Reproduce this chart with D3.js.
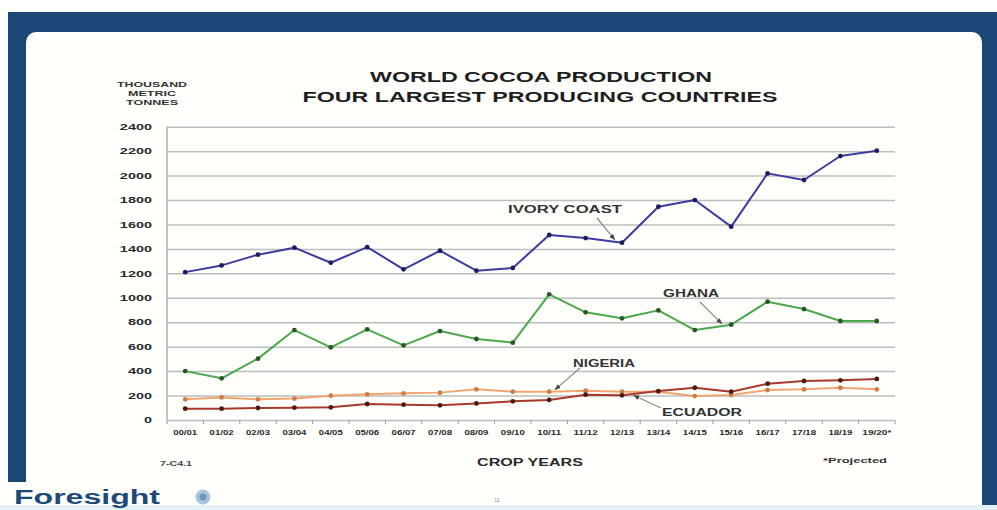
<!DOCTYPE html>
<html><head><meta charset="utf-8">
<script src="https://cdn.jsdelivr.net/npm/d3@7"></script>
<style>
html,body{margin:0;padding:0;background:#fff;}
svg{display:block;font-family:"Liberation Sans",Arial,Helvetica,sans-serif;}
</style>
</head><body>
<svg id="c" width="997" height="510"></svg>
<script>
// ---------- data ----------
const cropYears = ["00/01","01/02","02/03","03/04","04/05","05/06","06/07","07/08","08/09","09/10",
                   "10/11","11/12","12/13","13/14","14/15","15/16","16/17","17/18","18/19","19/20*"];
const yTicks = [0,200,400,600,800,1000,1200,1400,1600,1800,2000,2200,2400];
const ivoryCoast = [1210,1265,1353,1410,1287,1415,1233,1385,1222,1244,1514,1489,1451,1745,1800,1582,2018,1964,2160,2204];
const ghana      = [400,341,502,736,595,742,611,728,663,633,1028,881,832,897,736,780,968,908,810,810];
const nigeria    = [169,185,169,175,199,210,218,224,251,232,232,240,232,232,196,205,245,251,264,251];
const ecuador    = [93,93,98,101,104,131,125,120,136,153,164,207,202,237,264,232,297,319,325,336];
const seriesNames = ["IVORY COAST","GHANA","NIGERIA","ECUADOR"];

// ---------- setup ----------
const svg = d3.select("#c");
const X0 = 167, X1 = 895, Y0 = 420, Y1 = 126.7;
const x = d3.scaleBand().domain(cropYears).range([X0, X1]).padding(0);
const y = d3.scaleLinear().domain([0, 2400]).range([Y0, Y1]);
const cx = d => x(d) + x.bandwidth() / 2;

function stretch(sel, factor) {
  sel.each(function() {
    const L = this.getComputedTextLength();
    d3.select(this).attr("textLength", L * factor).attr("lengthAdjust", "spacingAndGlyphs");
  });
  return sel;
}
function fitTo(sel, w) {
  sel.attr("textLength", w).attr("lengthAdjust", "spacingAndGlyphs");
  return sel;
}

// ---------- slide frame ----------
svg.append("rect").attr("x", 0).attr("y", 0).attr("width", 997).attr("height", 510).attr("fill", "#ffffff");
svg.append("rect").attr("x", 8).attr("y", 12).attr("width", 989).attr("height", 498).attr("fill", "#1b4777");
svg.append("rect").attr("x", 26).attr("y", 32).attr("width", 956).attr("height", 520).attr("rx", 10)
   .attr("fill", "#fffffc");
// white strip behind the logo at bottom-left
svg.append("rect").attr("x", 0).attr("y", 482).attr("width", 60).attr("height", 28).attr("fill", "#fffffc");
svg.append("rect").attr("x", 0).attr("y", 505).attr("width", 997).attr("height", 5).attr("fill", "#e3f0f8");

// ---------- grid + y axis ----------
const gy = svg.append("g").attr("transform", `translate(${X0},0)`)
  .call(d3.axisLeft(y).tickValues(yTicks).tickSize(-(X1 - X0)).tickPadding(15).tickFormat(d3.format("d")));
gy.select(".domain").remove();
gy.selectAll(".tick line").attr("stroke", "#bdbdbd").attr("stroke-width", 1.5);
gy.selectAll(".tick text").attr("fill", "#2a2a2a").attr("font-size", 8.5).attr("font-weight", "bold");
stretch(gy.selectAll(".tick text"), 1.7);

svg.append("line").attr("x1", X0).attr("x2", X0).attr("y1", y(2400)).attr("y2", y(0))
   .attr("stroke", "#b0b0b0").attr("stroke-width", 1.5);

// x axis ticks at category boundaries
const bounds = cropYears.map(d => x(d)).concat([X1]);
svg.append("g").selectAll("line").data(bounds).join("line")
   .attr("x1", d => d).attr("x2", d => d).attr("y1", Y0).attr("y2", Y0 + 4)
   .attr("stroke", "#9a9a9a").attr("stroke-width", 1);

const gx = svg.append("g").attr("transform", `translate(0,${Y0})`)
  .call(d3.axisBottom(x).tickSize(0).tickPadding(10));
gx.select(".domain").remove();
gx.selectAll(".tick text").attr("fill", "#2a2a2a").attr("font-size", 7.5).attr("font-weight", "bold")
  .attr("textLength", d => d.length > 5 ? 29 : 24).attr("lengthAdjust", "spacingAndGlyphs");

// ---------- lines ----------
const series = [
  {name: seriesNames[0], values: ivoryCoast, line: "#3c3c9e", dot: "#1e1e5c"},
  {name: seriesNames[1], values: ghana,      line: "#4ba84b", dot: "#2b542b"},
  {name: seriesNames[2], values: nigeria,    line: "#f2a56e", dot: "#cf7c45"},
  {name: seriesNames[3], values: ecuador,    line: "#a8392b", dot: "#4a1a14"}
];
const lineGen = d3.line().x((v, i) => cx(cropYears[i])).y(v => y(v));
const order = [2, 3, 1, 0];
order.forEach(k => {
  const s = series[k];
  svg.append("path").datum(s.values).attr("d", lineGen)
     .attr("fill", "none").attr("stroke", s.line).attr("stroke-width", 2).attr("stroke-linejoin", "round");
  svg.append("g").selectAll("circle").data(s.values).join("circle")
     .attr("cx", (v, i) => cx(cropYears[i])).attr("cy", v => y(v)).attr("r", 2.4)
     .attr("fill", s.dot);
});

// ---------- annotations ----------
const defs = svg.append("defs");
defs.append("marker").attr("id", "ah").attr("viewBox", "0 0 10 10").attr("refX", 9).attr("refY", 5)
  .attr("markerWidth", 5).attr("markerHeight", 5).attr("orient", "auto")
  .append("path").attr("d", "M0,1 L10,5 L0,9 z").attr("fill", "#444");

const notes = [
  {text: seriesNames[0], tx: 565, ty: 213, w: 114, from: [597, 218], idx: 11, t: 0.85, s: 0},
  {text: seriesNames[1], tx: 691, ty: 297, w: 56,  from: [700, 302], idx: 14, t: 0.8, s: 1},
  {text: seriesNames[2], tx: 604, ty: 367, w: 62,  from: [580, 368], idx: 10, t: 0.1, s: 2},
  {text: seriesNames[3], tx: 702, ty: 416, w: 80,  from: [661, 408], idx: 12, t: 0.25, s: 3}
];
notes.forEach(n => {
  const vals = series[n.s].values;
  const xa = cx(cropYears[n.idx]), xb = cx(cropYears[n.idx + 1]);
  const tx = xa + (xb - xa) * n.t;
  const ty = y(vals[n.idx] + (vals[n.idx + 1] - vals[n.idx]) * n.t);
  const dx = tx - n.from[0], dy = ty - n.from[1], L = Math.hypot(dx, dy);
  const ex = n.from[0] + dx * (L - 3) / L, ey = n.from[1] + dy * (L - 3) / L;
  svg.append("line").attr("x1", n.from[0]).attr("y1", n.from[1]).attr("x2", ex).attr("y2", ey)
     .attr("stroke", "#8a8a8a").attr("stroke-width", 1.2).attr("marker-end", "url(#ah)");
  fitTo(svg.append("text").attr("x", n.tx).attr("y", n.ty).attr("text-anchor", "middle")
     .attr("font-size", 10).attr("font-weight", "bold").attr("fill", "#333").text(n.text), n.w);
});

// ---------- titles & labels ----------
fitTo(svg.append("text").attr("x", 541).attr("y", 82).attr("text-anchor", "middle")
  .attr("font-size", 14).attr("font-weight", "bold").attr("fill", "#1e1e1e")
  .text("WORLD  COCOA  PRODUCTION"), 342);
fitTo(svg.append("text").attr("x", 540).attr("y", 102).attr("text-anchor", "middle")
  .attr("font-size", 14).attr("font-weight", "bold").attr("fill", "#1e1e1e")
  .text("FOUR  LARGEST  PRODUCING  COUNTRIES"), 475);

[["THOUSAND", 87, 70], ["METRIC", 96, 48], ["TONNES", 105, 52]].forEach(([t, yy, w]) => {
  fitTo(svg.append("text").attr("x", 152).attr("y", yy).attr("text-anchor", "middle")
    .attr("font-size", 6.5).attr("font-weight", "bold").attr("fill", "#333").text(t), w);
});

fitTo(svg.append("text").attr("x", 530).attr("y", 466).attr("text-anchor", "middle")
  .attr("font-size", 10.5).attr("font-weight", "bold").attr("fill", "#2a2a2a").text("CROP  YEARS"), 106);
fitTo(svg.append("text").attr("x", 855).attr("y", 463).attr("text-anchor", "middle")
  .attr("font-size", 7.5).attr("font-weight", "bold").attr("fill", "#333").text("*Projected"), 64);
fitTo(svg.append("text").attr("x", 176).attr("y", 466).attr("text-anchor", "middle")
  .attr("font-size", 6.5).attr("font-weight", "bold").attr("fill", "#444").text("7-C4.1"), 32);
svg.append("text").attr("x", 497).attr("y", 502).attr("text-anchor", "middle")
  .attr("font-size", 6).attr("fill", "#999").text("11");

// Foresight logo
fitTo(svg.append("text").attr("x", 14).attr("y", 504)
  .attr("font-size", 20).attr("font-weight", "bold").attr("fill", "#1d4a78").text("Foresight"), 146);
svg.append("circle").attr("cx", 203).attr("cy", 497).attr("r", 7.5).attr("fill", "#a9c4dc");
svg.append("circle").attr("cx", 203).attr("cy", 497).attr("r", 3.5).attr("fill", "#6f95b8");
</script>
</body></html>
